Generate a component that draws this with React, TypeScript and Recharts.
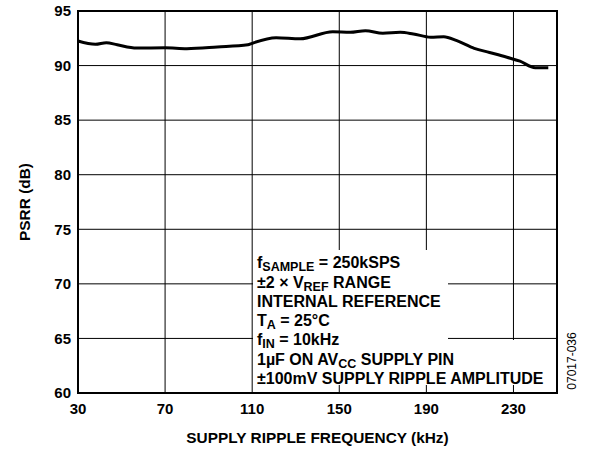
import React from 'react';
import { LineChart, Line, XAxis, YAxis, CartesianGrid, ReferenceArea } from 'recharts';

document.body.style.margin = '0';

// supply ripple frequency (kHz)
const freqs = [30, 38, 43, 48, 57, 70, 80, 94, 108, 110, 121, 132, 147, 155, 162, 170, 178, 184, 192, 198, 204, 212, 219, 227, 233, 240, 246];
// PSRR (dB)
const psrr = [92.25, 91.95, 92.1, 91.9, 91.6, 91.64, 91.55, 91.7, 91.9, 92.04, 92.55, 92.45, 93.1, 93.05, 93.2, 92.96, 93.05, 92.9, 92.6, 92.65, 92.28, 91.58, 91.2, 90.76, 90.4, 89.8, 89.8];

const xTicks = [30, 70, 110, 150, 190, 230];
const yTicks = [60, 65, 70, 75, 80, 85, 90, 95];

const data = freqs.map((f, i) => ({ f, psrr: psrr[i] }));

const FONT = 'Arial, "Liberation Sans", Helvetica, sans-serif';

const tickStyle = { fill: '#000', fontSize: 15, fontWeight: 'bold' as const, fontFamily: FONT };

const YTitle = (props: any) => {
  const vb = props.viewBox || { x: 0, y: 11, width: 78, height: 382 };
  const cx = vb.x + 24;
  const cy = vb.y + vb.height / 2;
  return (
    <text
      x={cx}
      y={cy}
      transform={`rotate(-90 ${cx} ${cy})`}
      textAnchor="middle"
      dominantBaseline="central"
      fontFamily={FONT}
      fontWeight="bold"
      fontSize={15.4}
      fill="#000"
    >
      PSRR (dB)
    </text>
  );
};

const sub: React.CSSProperties = { fontSize: 12.5, position: 'relative', top: 3 };

const notes: React.ReactNode[] = [
  <>f<span style={sub}>SAMPLE</span> = 250kSPS</>,
  <>±2 × V<span style={sub}>REF</span> RANGE</>,
  <>INTERNAL REFERENCE</>,
  <>T<span style={sub}>A</span> = 25°C</>,
  <>f<span style={sub}>IN</span> = 10kHz</>,
  <>1µF ON AV<span style={sub}>CC</span> SUPPLY PIN</>,
  <>±100mV SUPPLY RIPPLE AMPLITUDE</>,
];

export default function App() {
  return (
    <div style={{ position: 'relative', width: 590, height: 452, background: '#fff' }}>
      <LineChart width={590} height={452} data={data} margin={{ top: 11, right: 33, bottom: 0, left: 0 }}>
        <CartesianGrid stroke="#000" strokeWidth={1} strokeOpacity={1} />
        <XAxis
          dataKey="f"
          type="number"
          domain={[30, 250]}
          ticks={xTicks}
          height={59}
          tickLine={false}
          tickSize={0}
          tickMargin={10}
          axisLine={{ stroke: '#000', strokeWidth: 2 }}
          tick={tickStyle}
          interval={0}
          label={{
            value: 'SUPPLY RIPPLE FREQUENCY (kHz)',
            position: 'insideBottom',
            offset: 9,
            fill: '#000',
            fontSize: 15.4,
            fontWeight: 'bold',
            fontFamily: FONT,
          }}
        />
        <YAxis
          type="number"
          domain={[60, 95]}
          ticks={yTicks}
          width={78}
          tickLine={false}
          tickSize={0}
          tickMargin={7}
          axisLine={{ stroke: '#000', strokeWidth: 2 }}
          tick={tickStyle}
          interval={0}
          label={<YTitle />}
        />
        <ReferenceArea x1={30} x2={250} y1={60} y2={95} fill="none" stroke="#000" strokeWidth={2} ifOverflow="visible" />
        <Line
          type="monotone"
          dataKey="psrr"
          stroke="#000"
          strokeWidth={3}
          dot={false}
          activeDot={false}
          isAnimationActive={false}
        />
      </LineChart>

      {/* white masks behind the condition text */}
      <div style={{ position: 'absolute', left: 253, top: 250, width: 195, height: 90, background: '#fff' }} />
      <div style={{ position: 'absolute', left: 253, top: 340, width: 293, height: 45, background: '#fff' }} />
      <div
        style={{
          position: 'absolute',
          left: 257,
          top: 254,
          fontFamily: FONT,
          fontWeight: 'bold',
          fontSize: 16,
          lineHeight: '18.5px',
          color: '#000',
          whiteSpace: 'nowrap',
        }}
      >
        {notes.map((n, i) => (
          <div key={i}>{n}</div>
        ))}
      </div>

      <div
        style={{
          position: 'absolute',
          left: 572,
          top: 361,
          transform: 'translate(-50%, -50%) rotate(-90deg)',
          fontFamily: FONT,
          fontSize: 12,
          color: '#000',
          whiteSpace: 'nowrap',
        }}
      >
        07017-036
      </div>
    </div>
  );
}
